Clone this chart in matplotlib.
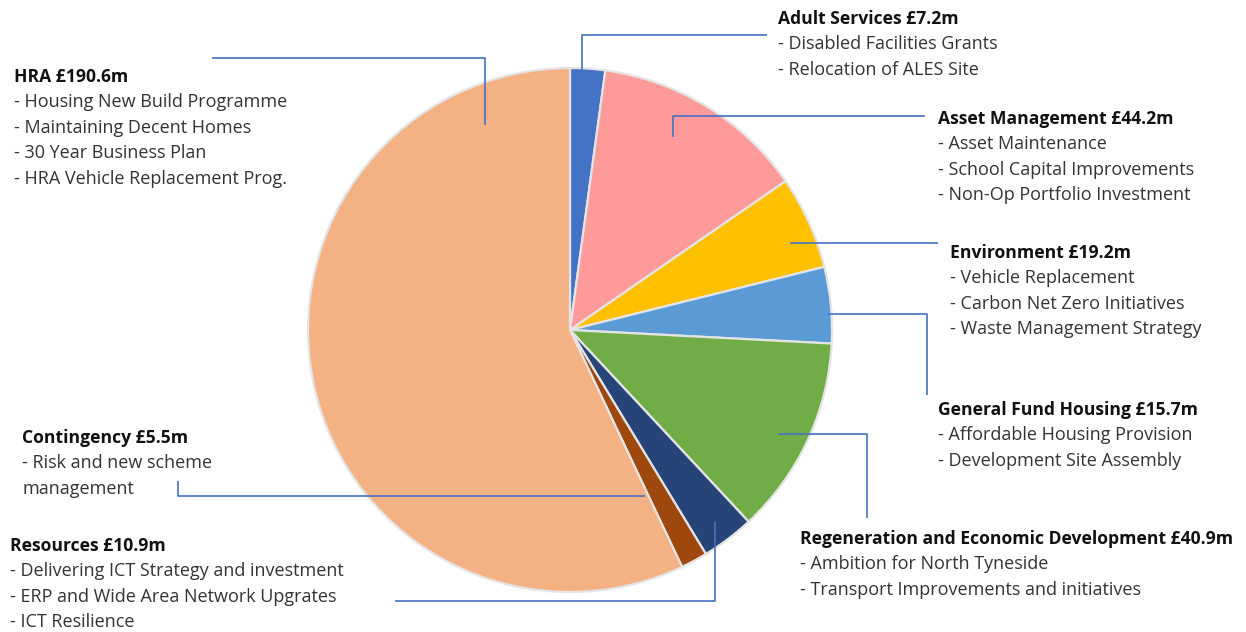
import matplotlib.pyplot as plt

# --- data
categories = ["Adult Services", "Asset Management", "Environment",
              "General Fund Housing", "Regeneration and Economic Development",
              "Resources", "Contingency", "HRA"]
values = [7.2, 44.2, 19.2, 15.7, 40.9, 10.9, 5.5, 190.6]
colors = ["#4472C4", "#FF9A9A", "#FFC000", "#5B9BD5", "#70AD47",
          "#264478", "#9E480E", "#F4B183"]
details = [
    ["- Disabled Facilities Grants", "- Relocation of ALES Site"],
    ["- Asset Maintenance", "- School Capital Improvements", "- Non-Op Portfolio Investment"],
    ["- Vehicle Replacement", "- Carbon Net Zero Initiatives", "- Waste Management Strategy"],
    ["- Affordable Housing Provision", "- Development Site Assembly"],
    ["- Ambition for North Tyneside", "- Transport Improvements and initiatives"],
    ["- Delivering ICT Strategy and investment", "- ERP and Wide Area Network Upgrates", "- ICT Resilience"],
    ["- Risk and new scheme", "management"],
    ["- Housing New Build Programme", "- Maintaining Decent Homes", "- 30 Year Business Plan",
     "- HRA Vehicle Replacement Prog."],
]

# --- layout (pixel coords, y down)
W, H = 1246, 632
text_pos = [(778, 19), (938, 119), (950, 253), (938, 410),
            (800, 539), (10, 546), (22, 438), (14, 77)]
leaders = [
    [(582, 70), (582, 35), (767, 35)],
    [(673, 137), (673, 116), (925, 116)],
    [(790, 243), (938, 243)],
    [(828, 314), (927, 314), (927, 395)],
    [(778, 434), (867, 434), (867, 518)],
    [(715, 522), (715, 601), (395, 601)],
    [(645, 496), (178, 496), (178, 481)],
    [(485, 125), (485, 58), (212, 58)],
]
line_gap = 25.4

plt.rcParams['font.family'] = ['Open Sans', 'DejaVu Sans']

fig = plt.figure(figsize=(W / 100, H / 100), dpi=100)
ax = fig.add_axes([0, 0, 1, 1])

ax.pie(values, colors=colors, startangle=90, counterclock=False,
       center=(570, H - 330), radius=262, frame=True,
       wedgeprops=dict(edgecolor="#e4e4e4", linewidth=1.6))
ax.set_xlim(0, W)
ax.set_ylim(0, H)
ax.set_aspect('equal')
ax.axis('off')

for pts in leaders:
    xs = [p[0] for p in pts]
    ys = [H - p[1] for p in pts]
    ax.plot(xs, ys, color="#4472C4", lw=1.2, solid_capstyle='butt')

for name, val, lines, (x, y) in zip(categories, values, details, text_pos):
    ax.text(x, H - y, f"{name} £{val}m", fontsize=12.6, fontweight='bold',
            color="#111111", va='center', ha='left')
    for i, ln in enumerate(lines):
        ax.text(x, H - (y + line_gap * (i + 1)), ln, fontsize=13,
                color="#333333", va='center', ha='left')

fig.savefig("out.png", dpi=100)
